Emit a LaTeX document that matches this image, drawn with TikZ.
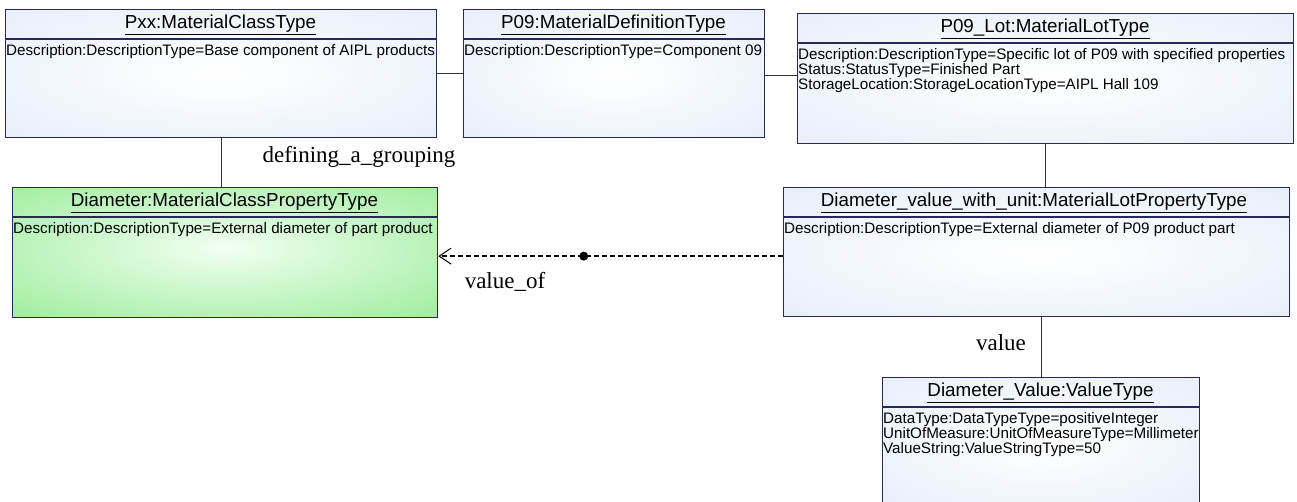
\documentclass[tikz,border=0pt]{standalone}
\usepackage{fontspec}
\setmainfont{Liberation Sans}
\newfontfamily\labelfont{Liberation Serif}
\usetikzlibrary{arrows.meta}
\definecolor{boxline}{RGB}{40,40,90}
\definecolor{bA}{RGB}{255,255,255}
\definecolor{bB}{RGB}{240,245,252}
\definecolor{bC}{RGB}{222,233,248}
\definecolor{bD}{RGB}{212,226,246}
\definecolor{gA}{RGB}{242,255,242}
\definecolor{gB}{RGB}{200,246,200}
\definecolor{gC}{RGB}{155,236,155}
\definecolor{gD}{RGB}{140,228,140}
\pgfdeclareradialshading{blueshade}{\pgfpoint{0bp}{0bp}}{color(0bp)=(bA); color(22bp)=(bB); color(50bp)=(bC); color(72bp)=(bD)}
\pgfdeclareradialshading{greenshade}{\pgfpoint{0bp}{2bp}}{color(0bp)=(gA); color(18bp)=(gB); color(38bp)=(gC); color(75bp)=(gD)}
\tikzset{
  umlbox/.style={draw=boxline, line width=1.3pt, rectangle, inner sep=0pt, anchor=north west,
    shade, shading=blueshade},
  greenbox/.style={umlbox, shading=greenshade},
  boxtitle/.style={font=\fontsize{18.8}{22}\selectfont, inner sep=0pt, anchor=center},
  attr/.style={font=\fontsize{15.2}{16}\selectfont, inner sep=0pt, anchor=west},
  sepline/.style={draw=boxline, line width=1.3pt},
  conn/.style={draw=black!80, line width=1.2pt},
  lbl/.style={font=\labelfont\fontsize{23}{26}\selectfont, inner sep=0pt},
}
\begin{document}
\begin{tikzpicture}[x=1pt,y=-1pt]
\useasboundingbox (0,0) rectangle (1297,501);
% boxes
\node[umlbox, minimum width=431, minimum height=128] (pxx) at (5,9) {};
\node[umlbox, minimum width=301, minimum height=128] (pdef) at (463,9) {};
\node[umlbox, minimum width=496, minimum height=130] (lot) at (797,13) {};
\node[greenbox, minimum width=425, minimum height=130] (dia) at (12,187) {};
\node[umlbox, minimum width=506, minimum height=129] (lotprop) at (783,187) {};
\node[umlbox, minimum width=317, minimum height=130] (val) at (882,377) {};
% box 1
\node[boxtitle] (pxxt) at (220.5,25) {\underline{Pxx:MaterialClassType}};
\draw[sepline] (5,39) -- (436,39);
\node[attr] (pxxa) at (6,52) {Description:DescriptionType=Base component of AIPL products};
% box 2
\node[boxtitle] (pdeft) at (613.5,25) {\underline{P09:MaterialDefinitionType}};
\draw[sepline] (463,39) -- (764,39);
\node[attr] (pdefa) at (464,52) {Description:DescriptionType=Component 09};
% box 3
\node[boxtitle] (lott) at (1045,29) {\underline{P09\_Lot:MaterialLotType}};
\draw[sepline] (797,43) -- (1293,43);
\node[attr] (lota1) at (798,56) {Description:DescriptionType=Specific lot of P09 with specified properties};
\node[attr] (lota2) at (798,71) {Status:StatusType=Finished Part};
\node[attr] (lota3) at (798,86) {StorageLocation:StorageLocationType=AIPL Hall 109};
% green box
\node[boxtitle] (diat) at (224.5,203) {\underline{Diameter:MaterialClassPropertyType}};
\draw[sepline] (12,217) -- (437,217);
\node[attr] (diaa) at (13,230) {Description:DescriptionType=External diameter of part product};
% lot property box
\node[boxtitle] (lotpropt) at (1034,203) {\underline{Diameter\_value\_with\_unit:MaterialLotPropertyType}};
\draw[sepline] (783,217) -- (1289,217);
\node[attr] (lotpropa) at (784,230) {Description:DescriptionType=External diameter of P09 product part};
% value box
\node[boxtitle] (valt) at (1040.5,393) {\underline{Diameter\_Value:ValueType}};
\draw[sepline] (882,407) -- (1199,407);
\node[attr] (vala1) at (883,420) {DataType:DataTypeType=positiveInteger};
\node[attr] (vala2) at (883,435) {UnitOfMeasure:UnitOfMeasureType=Millimeter};
\node[attr] (vala3) at (883,450) {ValueString:ValueStringType=50};
% connectors
\draw[conn] (pxx.east) -- (pxx.east -| pdef.west);
\draw[conn] ([yshift=-2pt]pdef.east) -- ([yshift=-2pt]pdef.east -| lot.west);
\draw[conn] (pxx.south) -- (pxx.south |- dia.north);
\draw[conn] (lot.south) -- (lot.south |- lotprop.north);
\draw[conn] (val.north) -- (val.north |- lotprop.south);
\draw[black, line width=2.4pt, dash pattern=on 5.5pt off 2.5pt,
  -{Straight Barb[length=12pt, width=16pt, line width=1pt]}]
  ([yshift=-4pt]lotprop.west) -- ([yshift=-4pt]lotprop.west -| dia.east)
  node[pos=0.578, circle, fill=black, inner sep=0pt, minimum size=9pt] (dot) {};
% labels
\node[lbl] (lgroup) at (359,157) {defining\_a\_grouping};
\node[lbl] (lvalof) at (505,282) {value\_of};
\node[lbl] (lval) at (1001,343) {value};
\end{tikzpicture}
\end{document}
